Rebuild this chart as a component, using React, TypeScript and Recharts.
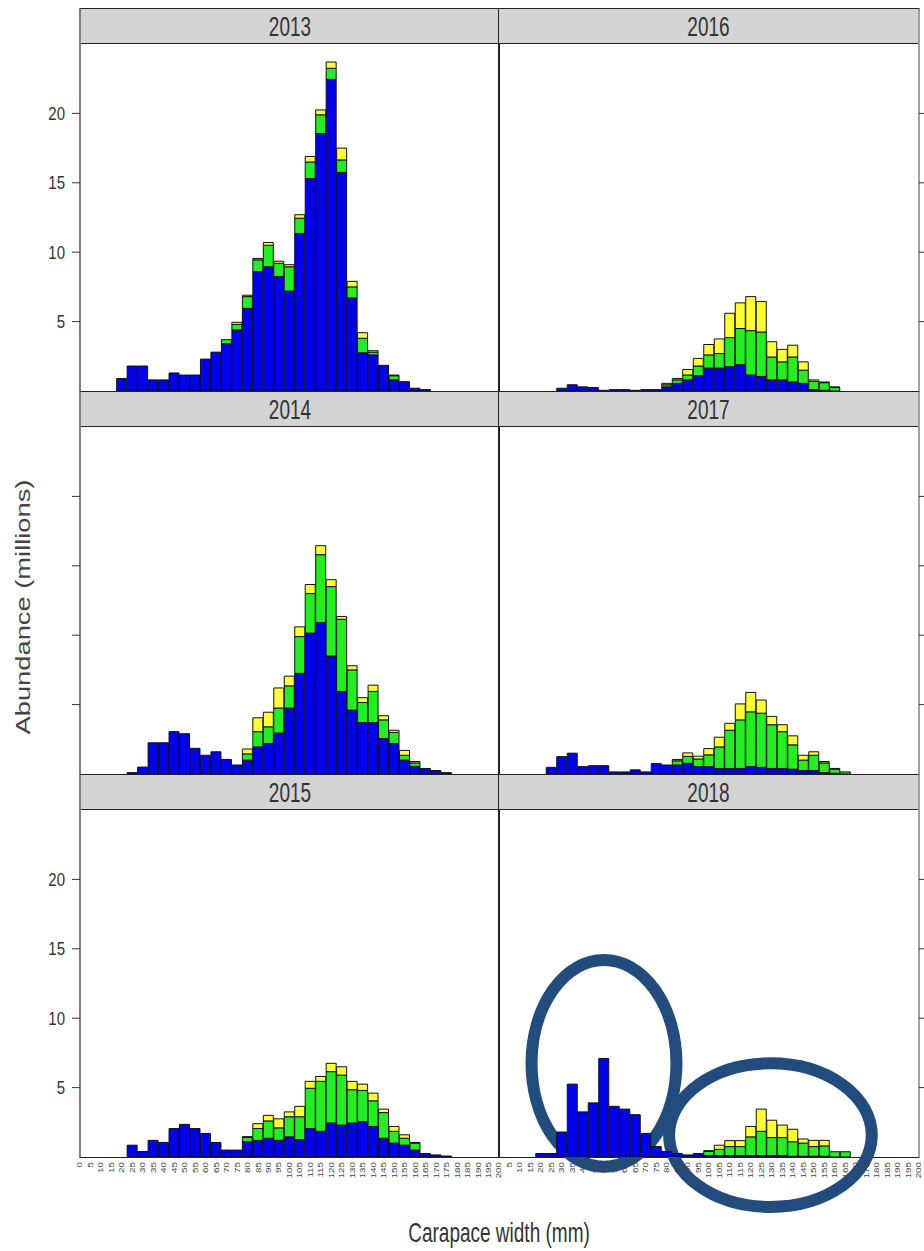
import React from 'react';
import { BarChart, Bar, XAxis, YAxis, ReferenceArea } from 'recharts';

// carapace width bins (mm), one bar per bin
const widths = [
  0, 5, 10, 15, 20, 25, 30, 35, 40, 45,
  50, 55, 60, 65, 70, 75, 80, 85, 90, 95,
  100, 105, 110, 115, 120, 125, 130, 135, 140, 145,
  150, 155, 160, 165, 170, 175, 180, 185, 190, 195,
  200,
];
const yTicks = [5, 10, 15, 20];

// abundance (millions) per bin: blue / green / yellow stacks
const blue2013 = [
  0, 0, 0, 0, 0.9, 1.8, 1.8, 0.8, 0.8, 1.3,
  1.15, 1.15, 2.3, 2.8, 3.4, 4.4, 5.95, 8.6, 8.95, 8.25,
  7.2, 11.35, 15.3, 18.55, 22.45, 15.75, 6.7, 2.75, 2.6, 1.85,
  0.8, 0.67, 0.2, 0.1, 0, 0, 0, 0, 0, 0,
  0,
];
const green2013 = [
  0, 0, 0, 0, 0, 0, 0, 0, 0, 0,
  0, 0, 0, 0, 0.3, 0.4, 0.85, 0.85, 1.55, 0.95,
  1.75, 1.1, 1.2, 1.35, 0.8, 0.9, 0.8, 1.05, 0.2, 0,
  0.3, 0, 0, 0, 0, 0, 0, 0, 0, 0,
  0,
];
const yellow2013 = [
  0, 0, 0, 0, 0, 0, 0, 0, 0, 0,
  0, 0, 0, 0, 0, 0.15, 0.1, 0.1, 0.2, 0.15,
  0.15, 0.25, 0.4, 0.35, 0.45, 0.85, 0.4, 0.4, 0.1, 0,
  0.05, 0, 0, 0, 0, 0, 0, 0, 0, 0,
  0,
];

const blue2014 = [
  0, 0, 0, 0, 0, 0.1, 0.5, 2.25, 2.25, 3.05,
  2.9, 1.85, 1.35, 1.6, 1.05, 0.65, 1.0, 1.95, 2.2, 2.95,
  4.75, 7.25, 10.15, 10.9, 8.5, 5.95, 4.6, 3.7, 3.7, 2.55,
  2.2, 1.0, 0.55, 0.35, 0.25, 0.1, 0, 0, 0, 0,
  0,
];
const green2014 = [
  0, 0, 0, 0, 0, 0, 0, 0, 0, 0,
  0, 0, 0, 0, 0, 0, 0.45, 1.1, 1.2, 1.8,
  1.6, 2.65, 2.85, 4.9, 5.0, 5.2, 2.9, 1.45, 2.25, 1.35,
  0.8, 0.35, 0.25, 0.05, 0, 0, 0, 0, 0, 0,
  0,
];
const yellow2014 = [
  0, 0, 0, 0, 0, 0, 0, 0, 0, 0,
  0, 0, 0, 0, 0, 0, 0.35, 1.0, 1.05, 1.45,
  0.7, 0.7, 0.65, 0.65, 0.5, 0.2, 0.3, 0.35, 0.45, 0.3,
  0.15, 0.35, 0.1, 0, 0, 0, 0, 0, 0, 0,
  0,
];

const blue2015 = [
  0, 0, 0, 0, 0, 0.85, 0.4, 1.2, 1.05, 2.05,
  2.35, 2.05, 1.7, 1.05, 0.5, 0.5, 1.1, 1.2, 1.35, 1.2,
  1.45, 1.25, 2.05, 1.85, 2.45, 2.3, 2.45, 2.55, 2.2, 1.35,
  1.0, 0.85, 0.5, 0.25, 0.15, 0.07, 0, 0, 0, 0,
  0,
];
const green2015 = [
  0, 0, 0, 0, 0, 0, 0, 0, 0, 0,
  0, 0, 0, 0, 0, 0, 0.3, 0.85, 1.25, 0.9,
  1.45, 1.65, 2.9, 3.6, 3.7, 3.6, 2.4, 2.25, 1.85, 1.85,
  0.85, 0.5, 0.5, 0, 0, 0, 0, 0, 0, 0,
  0,
];
const yellow2015 = [
  0, 0, 0, 0, 0, 0, 0, 0, 0, 0,
  0, 0, 0, 0, 0, 0, 0.07, 0.35, 0.4, 0.65,
  0.35, 0.75, 0.5, 0.35, 0.6, 0.6, 0.6, 0.45, 0.55, 0.25,
  0.35, 0.25, 0.05, 0, 0, 0, 0, 0, 0, 0,
  0,
];

const blue2016 = [
  0, 0, 0, 0, 0, 0, 0.2, 0.45, 0.3, 0.25,
  0.05, 0.1, 0.1, 0.05, 0.1, 0.1, 0.3, 0.55, 0.8, 1.1,
  1.65, 1.65, 1.75, 1.9, 1.15, 1.05, 0.8, 0.8, 0.65, 0.55,
  0.1, 0.05, 0, 0, 0, 0, 0, 0, 0, 0,
  0,
];
const green2016 = [
  0, 0, 0, 0, 0, 0, 0, 0, 0, 0,
  0, 0, 0, 0, 0, 0, 0.15, 0.25, 0.35, 0.7,
  0.95, 1.05, 2.1, 2.6, 3.2, 3.2, 1.65, 1.3, 1.8, 0.95,
  0.6, 0.55, 0.25, 0, 0, 0, 0, 0, 0, 0,
  0,
];
const yellow2016 = [
  0, 0, 0, 0, 0, 0, 0, 0, 0, 0,
  0, 0, 0, 0, 0, 0, 0.1, 0.1, 0.4, 0.55,
  0.75, 1.05, 1.75, 1.85, 2.45, 2.2, 1.1, 0.9, 0.85, 0.6,
  0.1, 0.05, 0.05, 0, 0, 0, 0, 0, 0, 0,
  0,
];

const blue2017 = [
  0, 0, 0, 0, 0, 0.48, 1.25, 1.5, 0.53, 0.6,
  0.6, 0.15, 0.15, 0.3, 0.15, 0.75, 0.65, 0.65, 0.77, 0.53,
  0.53, 0.4, 0.4, 0.4, 0.53, 0.48, 0.4, 0.4, 0.35, 0.25,
  0.25, 0.1, 0.05, 0, 0, 0, 0, 0, 0, 0,
  0,
];
const green2017 = [
  0, 0, 0, 0, 0, 0, 0, 0, 0, 0,
  0, 0, 0, 0, 0, 0, 0, 0.3, 0.5, 0.55,
  0.85, 1.55, 2.75, 3.5, 3.95, 3.9, 3.15, 2.65, 1.75, 0.75,
  1.1, 0.7, 0.3, 0.15, 0, 0, 0, 0, 0, 0,
  0,
];
const yellow2017 = [
  0, 0, 0, 0, 0, 0, 0, 0, 0, 0,
  0, 0, 0, 0, 0, 0, 0, 0.1, 0.25, 0.2,
  0.45, 0.7, 0.5, 1.15, 1.4, 0.95, 0.6, 0.5, 0.65, 0.35,
  0.25, 0.1, 0.05, 0, 0, 0, 0, 0, 0, 0,
  0,
];

const blue2018 = [
  0, 0, 0, 0, 0.25, 0.25, 1.8, 5.25, 3.25, 3.9,
  7.1, 3.65, 3.45, 3.05, 1.7, 0.75, 0.4, 0.25, 0.15, 0.25,
  0.1, 0.1, 0.1, 0.1, 0.1, 0.1, 0.1, 0.1, 0.05, 0.05,
  0.05, 0.05, 0, 0, 0, 0, 0, 0, 0, 0,
  0,
];
const green2018 = [
  0, 0, 0, 0, 0, 0, 0, 0, 0, 0,
  0, 0, 0, 0, 0, 0, 0, 0, 0, 0,
  0.3, 0.45, 0.65, 0.65, 1.35, 1.75, 1.3, 1.3, 1.05, 0.95,
  0.7, 0.75, 0.38, 0.38, 0, 0, 0, 0, 0, 0,
  0,
];
const yellow2018 = [
  0, 0, 0, 0, 0, 0, 0, 0, 0, 0,
  0, 0, 0, 0, 0, 0, 0, 0, 0, 0,
  0.06, 0.3, 0.43, 0.43, 0.75, 1.6, 1.25, 0.9, 0.9, 0.3,
  0.45, 0.4, 0, 0, 0, 0, 0, 0, 0, 0,
  0,
];

// highlighted groups drawn on the 2018 panel (data units)
const rings2018 = [
  { x1: 15.5, x2: 84.5, y1: -0.7, y2: 14.2 },
  { x1: 81, x2: 177.5, y1: -3.6, y2: 6.75 },
];

const panels = [
  { year: '2013', col: 0, row: 0, blue: blue2013, green: green2013, yellow: yellow2013 },
  { year: '2014', col: 0, row: 1, blue: blue2014, green: green2014, yellow: yellow2014 },
  { year: '2015', col: 0, row: 2, blue: blue2015, green: green2015, yellow: yellow2015 },
  { year: '2016', col: 1, row: 0, blue: blue2016, green: green2016, yellow: yellow2016 },
  { year: '2017', col: 1, row: 1, blue: blue2017, green: green2017, yellow: yellow2017 },
  { year: '2018', col: 1, row: 2, blue: blue2018, green: green2018, yellow: yellow2018 },
];

const FONT = '"Liberation Sans", Arial, sans-serif';
const BLUE = '#0000ee';
const GREEN = '#22ee22';
const YELLOW = '#ffff33';
const EDGE = '#111';
const RING = '#224b7e';

const COL_X = [80, 499];
const COL_W = [419, 420];
const STRIP_TOP = [8, 391, 774];
const STRIP_H = 36;
const PLOT_H = 347;

const XTick = (props: any) => {
  const { x, y, payload } = props;
  return (
    <g transform={`translate(${x},${y + 1}) rotate(-90) scale(1.4,1)`}>
      <text x={0} y={0} textAnchor="end" dominantBaseline="central" fontSize={7} fill="#444" fontFamily={FONT}>
        {payload.value}
      </text>
    </g>
  );
};

const YTick = (props: any) => {
  const { x, y, payload, show } = props;
  if (!show) return <g />;
  return (
    <g transform={`translate(${x - 5},${y}) scale(1,1.25)`}>
      <text x={0} y={0} dy="0.35em" textAnchor="end" fontSize={15} fill="#333" fontFamily={FONT}>
        {payload.value}
      </text>
    </g>
  );
};

const Ring = (props: any) => {
  const { x, y, width, height } = props;
  return (
    <ellipse
      cx={x + width / 2}
      cy={y + height / 2}
      rx={Math.abs(width) / 2}
      ry={Math.abs(height) / 2}
      fill="none"
      stroke={RING}
      strokeWidth={12}
    />
  );
};

function Frame({ p }: { p: any }) {
  const x = COL_X[p.col];
  const w = COL_W[p.col];
  const top = STRIP_TOP[p.row];
  const side = p.col === 0
    ? { borderLeft: '2px solid #808080', borderRight: '1px solid #222' }
    : { borderLeft: '1px solid #222', borderRight: '2px solid #a0a0a0' };
  return (
    <>
      <div
        style={{
          position: 'absolute', left: x - 1, top, width: w + 2, height: STRIP_H,
          boxSizing: 'border-box', background: '#d4d4d4',
          borderTop: '1px solid #222', borderBottom: '1px solid #222', ...side,
          display: 'flex', alignItems: 'center', justifyContent: 'center',
        }}
      >
        <span style={{ fontFamily: FONT, fontSize: 19, color: '#333', transform: 'scaleY(1.5)', display: 'inline-block', lineHeight: 1 }}>
          {p.year}
        </span>
      </div>
      <div
        style={{
          position: 'absolute', left: x - 1, top: top + STRIP_H - 1, width: w + 2, height: PLOT_H + 2,
          boxSizing: 'border-box', borderBottom: '1px solid #222', ...side,
        }}
      />
    </>
  );
}

function Panel({ p }: { p: any }) {
  const isLeft = p.col === 0;
  const bottom = p.row === 2;
  const w = COL_W[p.col];
  const axisW = isLeft ? 80 : 6;
  const padR = isLeft ? 8 : 0;
  const left = isLeft ? COL_X[0] - 80 : COL_X[1];
  const top = STRIP_TOP[p.row] + STRIP_H;
  const xH = 70;
  const data = widths.map((cw, i) => ({ cw, b: p.blue[i], g: p.green[i], y: p.yellow[i] }));
  const showLabels = isLeft && p.row !== 1;

  return (
    <div style={{ position: 'absolute', left, top }}>
      <BarChart
        width={w + axisW + padR}
        height={PLOT_H + (bottom ? xH : 0)}
        data={data}
        margin={{ top: 0, right: padR, bottom: 0, left: 0 }}
        barCategoryGap={0}
        barGap={0}
      >
        <XAxis
          type="number"
          dataKey="cw"
          domain={[0, 200]}
          ticks={isLeft ? widths : widths.slice(1)}
          interval={0}
          allowDataOverflow
          hide={!bottom}
          height={xH}
          axisLine={false}
          tickLine={false}
          tickSize={0}
          tickMargin={4}
          tick={<XTick />}
        />
        <YAxis
          type="number"
          domain={[0, 25]}
          ticks={yTicks}
          allowDataOverflow
          orientation={isLeft ? 'left' : 'right'}
          width={axisW}
          axisLine={false}
          tickSize={isLeft ? 8 : 5}
          tickLine={{ stroke: '#333' }}
          tick={<YTick show={showLabels} />}
        />
        <Bar dataKey="b" stackId="s" fill={BLUE} stroke={EDGE} strokeWidth={1} isAnimationActive={false} />
        <Bar dataKey="g" stackId="s" fill={GREEN} stroke={EDGE} strokeWidth={1} isAnimationActive={false} />
        <Bar dataKey="y" stackId="s" fill={YELLOW} stroke={EDGE} strokeWidth={1} isAnimationActive={false} />
        {p.year === '2018' &&
          rings2018.map((r, i) => (
            <ReferenceArea key={i} x1={r.x1} x2={r.x2} y1={r.y1} y2={r.y2} ifOverflow="visible" shape={<Ring />} />
          ))}
      </BarChart>
    </div>
  );
}

export default function App() {
  return (
    <div style={{ position: 'absolute', left: 0, top: 0, width: 924, height: 1251, background: '#fff', overflow: 'hidden' }}>
      {panels.map((p) => (
        <Frame key={'f' + p.year} p={p} />
      ))}
      {panels.map((p) => (
        <Panel key={p.year} p={p} />
      ))}
      <div
        style={{
          position: 'absolute', left: 22, top: 607, fontFamily: FONT, fontSize: 21, color: '#444',
          whiteSpace: 'nowrap', lineHeight: 1, transform: 'translate(-50%,-50%) rotate(-90deg) scaleX(1.3)',
        }}
      >
        Abundance (millions)
      </div>
      <div
        style={{
          position: 'absolute', left: 499, top: 1223, fontFamily: FONT, fontSize: 19, color: '#333',
          whiteSpace: 'nowrap', lineHeight: 1, transform: 'translateX(-50%) scaleY(1.45)',
        }}
      >
        Carapace width (mm)
      </div>
    </div>
  );
}
